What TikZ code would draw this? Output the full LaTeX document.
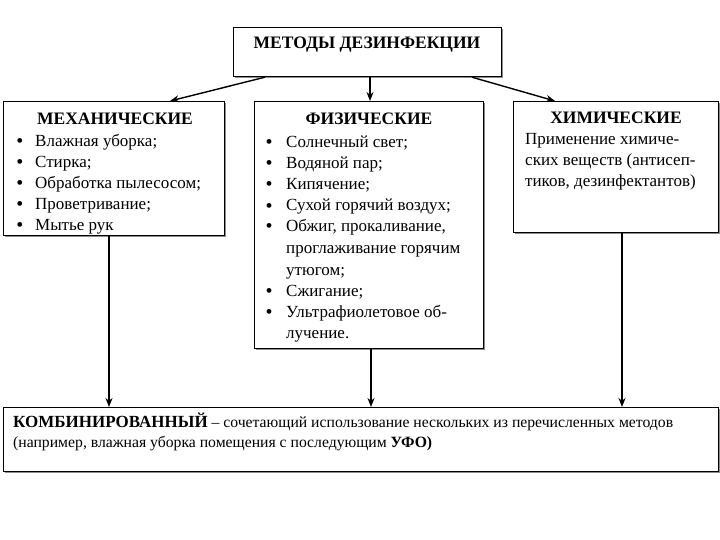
\documentclass[tikz,border=0pt]{standalone}
\usepackage{fontspec}
\setmainfont{Liberation Serif}
\usetikzlibrary{arrows.meta,shadows}
\begin{document}
\begin{tikzpicture}[x=1pt,y=-1pt,
  box/.style={draw=black,line width=1.2pt,fill=white,rectangle,inner sep=0pt,anchor=north west,
    drop shadow={shadow xshift=1.5pt,shadow yshift=-1.5pt,fill=black!45,opacity=1}},
  ttl/.style={font=\fontsize{17.5}{20}\selectfont\bfseries,inner sep=0pt,anchor=base},
  itm/.style={font=\fontsize{17}{20}\selectfont,inner sep=0pt,anchor=base west},
  bul/.style={font=\fontsize{20}{20}\selectfont,inner sep=0pt,anchor=base},
  arr/.style={line width=1.4pt,-{Stealth[length=9pt,width=7pt]}}]
\useasboundingbox[fill=white] (0,0) rectangle (720,540);
% boxes
\node[box,minimum width=268pt,minimum height=49pt] (top) at (233,27) {};
\node[box,minimum width=221pt,minimum height=134pt] (mech) at (3,101) {};
\node[box,minimum width=229pt,minimum height=247pt] (phys) at (254,101) {};
\node[box,minimum width=205pt,minimum height=131pt] (chem) at (513,101) {};
\node[box,minimum width=715pt,minimum height=64pt] (comb) at (3,407) {};
% titles
\node[ttl] (ttop) at (367,49) {МЕТОДЫ ДЕЗИНФЕКЦИИ};
\node[ttl] (tmech) at (115,125) {МЕХАНИЧЕСКИЕ};
\node[ttl] (tphys) at (369,125) {ФИЗИЧЕСКИЕ};
\node[ttl] (tchem) at (616,124) {ХИМИЧЕСКИЕ};
% mechanical items
\foreach \t [count=\i] in {Влажная уборка;,Стирка;,Обработка пылесосом;,Проветривание;,Мытье рук}{
  \node[bul] (mb\i) at (20,{148+20.8*(\i-1)}) {•};
  \node[itm] (mi\i) at (35,{147+20.8*(\i-1)}) {\t};
}
% physical items
\node[bul] (pb1) at (269,149) {•};
\node[itm] (pi1) at (286,148) {Солнечный свет;};
\node[bul] (pb2) at (269,170) {•};
\node[itm] (pi2) at (286,169) {Водяной пар;};
\node[bul] (pb3) at (269,191) {•};
\node[itm] (pi3) at (286,190) {Кипячение;};
\node[bul] (pb4) at (269,212) {•};
\node[itm] (pi4) at (286,211) {Сухой горячий воздух;};
\node[bul] (pb5) at (269,233) {•};
\node[itm] (pi5) at (286,232) {Обжиг, прокаливание,};
\node[itm] (pi6) at (286,254) {проглаживание горячим};
\node[itm] (pi7) at (286,275) {утюгом;};
\node[bul] (pb8) at (269,297) {•};
\node[itm] (pi8) at (286,296) {Сжигание;};
\node[bul] (pb9) at (269,318) {•};
\node[itm] (pi9) at (286,317) {Ультрафиолетовое об-};
\node[itm] (pi10) at (286,338) {лучение.};
% chemical
\node[itm] (c1) at (525,145) {Применение химиче-};
\node[itm] (c2) at (525,166) {ских веществ (антисеп-};
\node[itm] (c3) at (525,187) {тиков, дезинфектантов)};
% combined
\node[itm,font=\fontsize{15.7}{18}\selectfont] (k1) at (13,427) {{\fontsize{17}{18}\selectfont\bfseries КОМБИНИРОВАННЫЙ} – сочетающий использование нескольких из перечисленных методов};
\node[itm,font=\fontsize{15.7}{18}\selectfont] (k2) at (13,447) {(например, влажная уборка помещения с последующим \textbf{УФО)}};
% connectors
\draw[arr] ([xshift=32pt]top.south west) -- ([xshift=167pt]mech.north west);
\draw[arr] ([xshift=137pt]top.south west) -- ([xshift=116pt]phys.north west);
\draw[arr] ([xshift=239pt]top.south west) -- ([xshift=42pt]chem.north west);
\draw[arr] ([xshift=106pt]mech.south west) -- ([xshift=106pt]mech.south west |- comb.north);
\draw[arr] ([xshift=117pt]phys.south west) -- ([xshift=117pt]phys.south west |- comb.north);
\draw[arr] ([xshift=109pt]chem.south west) -- ([xshift=109pt]chem.south west |- comb.north);
\end{tikzpicture}
\end{document}
